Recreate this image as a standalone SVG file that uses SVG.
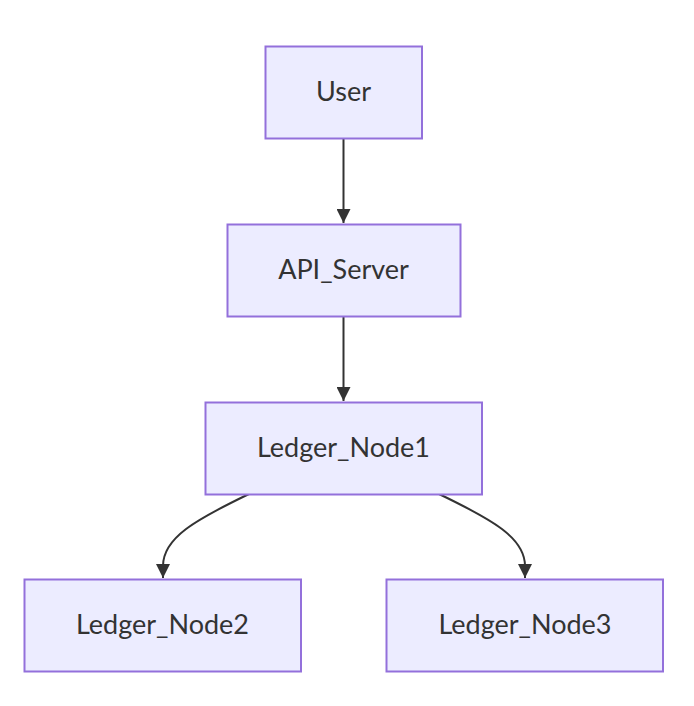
<svg xmlns="http://www.w3.org/2000/svg" width="694" height="706" viewBox="0 0 694 706">
<style>
.node rect{fill:#ECECFF;stroke:#9370DB;stroke-width:2}
.node text{font-family:Lato,"Noto Sans",sans-serif;font-size:27px;fill:#333;text-anchor:middle;dominant-baseline:central}
.edge{fill:none;stroke:#333;stroke-width:2}
</style>
<defs>
<marker id="arrow" viewBox="0 0 10 10" refX="10" refY="5" markerWidth="7" markerHeight="7" markerUnits="strokeWidth" orient="auto">
<path d="M0,0 L10,5 L0,10 z" fill="#333"/>
</marker>
</defs>
<rect width="694" height="706" fill="#fff"/>
<g id="connectors">
<path class="edge" d="M343.5,138 L343.5,223" marker-end="url(#arrow)"/>
<path class="edge" d="M343.5,316 L343.5,401" marker-end="url(#arrow)"/>
<path class="edge" d="M249,494 C195,520 163,538 163,566 L163,578" marker-end="url(#arrow)"/>
<path class="edge" d="M439,494 C493,520 525,538 525,566 L525,578" marker-end="url(#arrow)"/>
</g>
<g id="User" class="node"><rect x="265.5" y="46.5" width="156.5" height="92"/><text x="343.5" y="90.5">User</text></g>
<g id="API_Server" class="node"><rect x="227.5" y="224.5" width="233" height="92"/><text x="343.5" y="268.5">API_Server</text></g>
<g id="Ledger_Node1" class="node"><rect x="205.5" y="402.5" width="276.5" height="92"/><text x="343.5" y="446.5">Ledger_Node1</text></g>
<g id="Ledger_Node2" class="node"><rect x="24.5" y="579.5" width="276.5" height="92"/><text x="162.5" y="623.5">Ledger_Node2</text></g>
<g id="Ledger_Node3" class="node"><rect x="386.5" y="579.5" width="276.5" height="92"/><text x="525" y="623.5">Ledger_Node3</text></g>
</svg>
